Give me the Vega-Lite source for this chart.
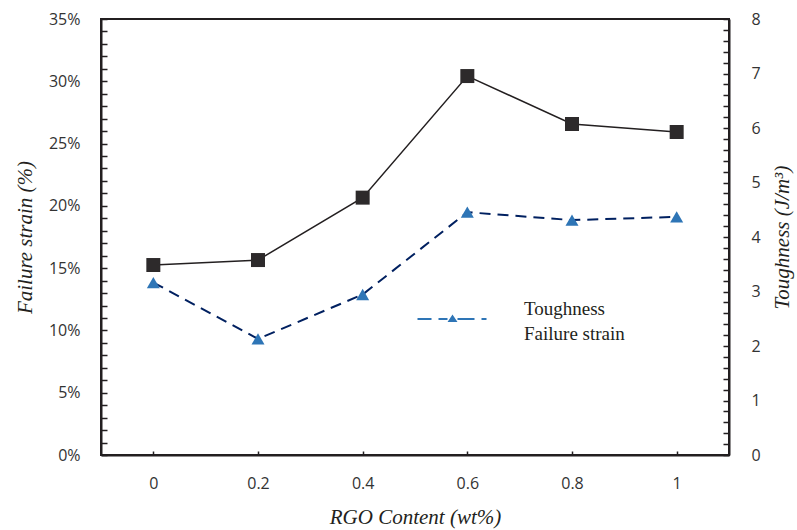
{
  "$schema": "https://vega.github.io/schema/vega-lite/v6.json",
  "width": 628,
  "height": 436,
  "autosize": {"type": "none"},
  "padding": {"left": 101, "top": 19, "right": 68, "bottom": 75},
  "background": "white",
  "config": {
    "view": {"stroke": "#231f20", "strokeWidth": 2},
    "point": {"shape": "triangle-up"},
    "axis": {
      "domainColor": "#231f20",
      "domainWidth": 2,
      "tickColor": "#231f20",
      "tickWidth": 1.5,
      "grid": false,
      "labelFont": "Open Sans",
      "labelFontSize": 16,
      "labelColor": "#333333",
      "titleFont": "Liberation Serif",
      "titleFontSize": 21,
      "titleFontStyle": "italic",
      "titleFontWeight": "normal",
      "titleColor": "#231f20"
    }
  },
  "data": {
    "values": [
      {"rgo": 0, "strain": 0.1525, "toughness": 3.165},
      {"rgo": 0.2, "strain": 0.1565, "toughness": 2.13},
      {"rgo": 0.4, "strain": 0.2066, "toughness": 2.945},
      {"rgo": 0.6, "strain": 0.3042, "toughness": 4.455},
      {"rgo": 0.8, "strain": 0.2657, "toughness": 4.31},
      {"rgo": 1, "strain": 0.2593, "toughness": 4.37}
    ]
  },
  "encoding": {
    "x": {
      "field": "rgo",
      "type": "quantitative",
      "scale": {"domain": [-0.1, 1.1], "nice": false, "zero": false},
      "axis": {
        "values": [0, 0.2, 0.4, 0.6, 0.8, 1],
        "format": "~g",
        "tickSize": -4,
        "labelPadding": 24,
        "title": "RGO Content (wt%)",
        "titlePadding": 15
      }
    }
  },
  "layer": [
    {
      "encoding": {
        "y": {
          "field": "strain",
          "type": "quantitative",
          "scale": {"domain": [0, 0.35], "nice": false},
          "axis": {
            "orient": "left",
            "values": [0, 0.01, 0.02, 0.03, 0.04, 0.05, 0.06, 0.07, 0.08, 0.09, 0.1, 0.11, 0.12, 0.13, 0.14, 0.15, 0.16, 0.17, 0.18, 0.19, 0.2, 0.21, 0.22, 0.23, 0.24, 0.25, 0.26, 0.27, 0.28, 0.29, 0.3, 0.31, 0.32, 0.33, 0.34, 0.35],
            "labelExpr": "round(datum.value*100) % 5 === 0 ? format(datum.value, '.0%') : ''",
            "tickSize": -6,
            "labelPadding": 27,
            "title": "Failure strain (%)",
            "titlePadding": 13
          }
        }
      },
      "layer": [
        {"mark": {"type": "line", "color": "#231f20", "strokeWidth": 1.5}},
        {"mark": {"type": "point", "shape": "square", "filled": true, "opacity": 1, "color": "#2d2a2b", "size": 196}}
      ]
    },
    {
      "encoding": {
        "y": {
          "field": "toughness",
          "type": "quantitative",
          "scale": {"domain": [0, 8], "nice": false},
          "axis": {
            "orient": "right",
            "values": [0, 0.2, 0.4, 0.6, 0.8, 1, 1.2, 1.4, 1.6, 1.8, 2, 2.2, 2.4, 2.6, 2.8, 3, 3.2, 3.4, 3.6, 3.8, 4, 4.2, 4.4, 4.6, 4.8, 5, 5.2, 5.4, 5.6, 5.8, 6, 6.2, 6.4, 6.6, 6.8, 7, 7.2, 7.4, 7.6, 7.8, 8],
            "labelExpr": "abs(datum.value - round(datum.value)) < 0.001 ? format(datum.value, 'd') : ''",
            "tickSize": -6,
            "labelPadding": 28,
            "title": "Toughness (J/m³)",
            "titleAngle": 270,
            "titleBaseline": "top",
            "titlePadding": 11
          }
        }
      },
      "layer": [
        {"mark": {"type": "line", "color": "#002060", "strokeWidth": 2, "strokeDash": [11, 7]}},
        {
          "mark": {"type": "point", "filled": true, "color": "#2e75b6", "size": 169},
          "encoding": {
            "opacity": {
              "datum": "Toughness",
              "type": "ordinal",
              "scale": {"domain": ["Toughness", "Failure strain"], "range": [1, 0]},
              "legend": {
                "orient": "none",
                "legendX": 341.5,
                "legendY": 290.5,
                "title": null,
                "symbolSize": 100,
                "symbolType": "M-6.9,-0.2H-4.1V0.2H-6.9ZM-2.7,-0.2H-0.9V0.2H-2.7ZM1.1,-0.2H4.5V0.2H1.1ZM5.9,-0.2H6.9V0.2H5.9ZM0.1,-0.9L1.1,0.6L-0.9,0.6Z",
                "symbolFillColor": "#2e75b6",
                "symbolStrokeColor": "#002060",
                "symbolStrokeWidth": 0.8,
                "labelOffset": 62.5,
                "labelFont": "Liberation Serif",
                "labelFontSize": 19,
                "labelBaseline": "bottom",
                "labelColor": "#231f20",
                "rowPadding": 0,
                "padding": 0
              }
            }
          }
        }
      ]
    }
  ],
  "resolve": {"scale": {"y": "independent"}}
}
